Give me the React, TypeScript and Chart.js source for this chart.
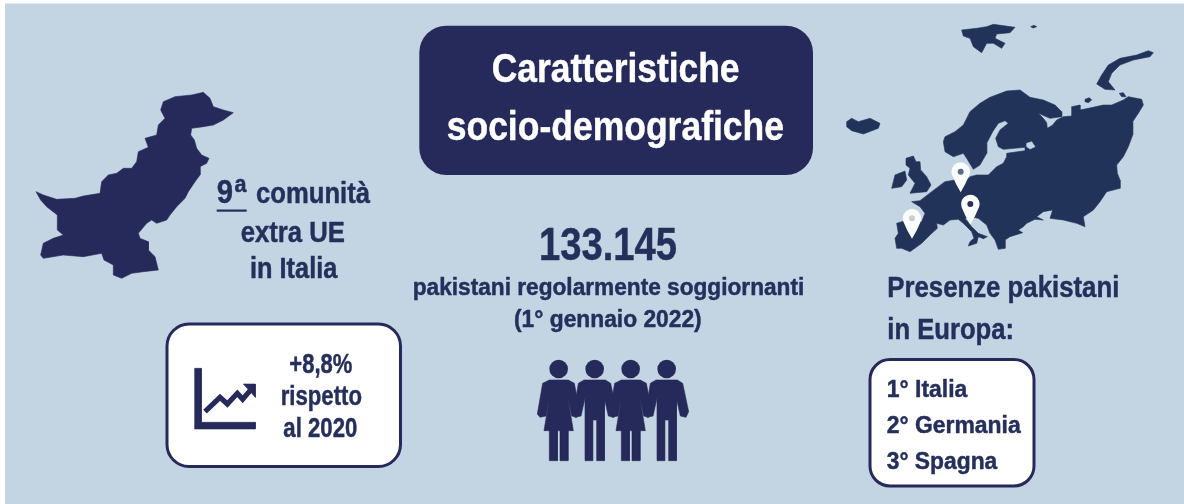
import React, { useEffect, useRef } from "react";
import { Chart, registerables } from "chart.js";

Chart.register(...registerables);

type P = [number, number];

const NAVY = "#252a5b";
const MAPBLUE = "#22335a";
const INK = "#252f5c";
const BG = "#c3d4e2";

// Text content
const titleLines = ["Caratteristiche", "socio-demografiche"];
const headlineValue = "133.145";
const headlineLines = ["pakistani regolarmente soggiornanti", "(1° gennaio 2022)"];
const rankOrdinal = ["9", "a"];
const rankLines = ["comunità", "extra UE", "in Italia"];
const growthLines = ["+8,8%", "rispetto", "al 2020"];
const presenceLines = ["Presenze pakistani", "in Europa:"];
const europeRanking = ["1° Italia", "2° Germania", "3° Spagna"];

// Silhouettes in 3x crop units
const pakistan: P[] = [[700,158],[670,180],[640,195],[610,200],[575,205],[572,225],[583,240],[590,265],[605,285],[627,295],[620,310],[600,320],[600,345],[585,365],[565,395],[555,415],[530,440],[510,465],[500,480],[470,490],[455,480],[440,490],[415,520],[420,535],[445,545],[445,570],[465,590],[475,630],[430,635],[395,640],[365,655],[340,645],[340,615],[312,600],[305,580],[250,590],[190,585],[130,595],[122,585],[130,550],[160,535],[190,525],[172,510],[172,465],[140,440],[122,420],[108,395],[130,405],[170,418],[225,415],[250,408],[300,400],[305,365],[325,345],[350,340],[370,325],[395,325],[410,305],[415,275],[445,262],[435,235],[470,225],[475,195],[495,175],[482,150],[490,125],[525,110],[575,105],[610,97],[630,115],[640,140],[670,150]];
const europe: P[] = [[340,395],[345,380],[375,365],[400,345],[420,305],[450,280],[480,262],[530,243],[570,240],[600,262],[640,270],[675,285],[695,305],[695,320],[660,325],[625,310],[640,325],[650,338],[652,355],[668,345],[680,330],[700,320],[725,318],[725,290],[750,285],[750,300],[775,295],[820,285],[845,285],[880,270],[895,260],[935,268],[940,285],[925,310],[908,335],[908,375],[895,410],[880,440],[860,465],[862,490],[870,510],[870,535],[830,545],[810,575],[790,600],[760,620],[765,650],[740,640],[700,630],[660,625],[668,600],[640,605],[620,620],[640,630],[615,628],[590,640],[580,650],[565,660],[578,668],[540,680],[525,690],[525,715],[505,718],[495,690],[480,670],[470,645],[445,625],[420,620],[405,625],[425,650],[445,670],[472,680],[460,686],[445,680],[440,700],[415,708],[420,695],[432,685],[425,665],[400,640],[385,628],[360,630],[340,645],[320,640],[322,655],[300,675],[275,700],[240,725],[215,715],[200,715],[195,685],[205,670],[200,640],[225,632],[275,635],[285,610],[270,590],[245,575],[270,572],[305,545],[345,515],[375,510],[400,520],[420,500],[440,495],[475,495],[500,470],[520,460],[530,440],[530,430],[585,422],[585,412],[520,418],[505,410],[497,385],[510,360],[535,340],[525,332],[505,340],[488,365],[470,400],[470,430],[450,465],[430,478],[410,445],[400,430],[370,440],[345,425]];
const ladoga: P[] = [[590,400],[605,395],[615,410],[600,417],[590,410]];
const novayaZemlya: P[] = [[800,222],[815,195],[835,165],[870,145],[920,135],[955,122],[970,128],[960,140],[910,150],[870,165],[845,190],[835,215],[855,240],[825,238]];
const kolguev: P[] = [[765,268],[778,263],[785,270],[775,278],[765,275]];
const vaygach: P[] = [[868,250],[880,248],[888,260],[875,260]];
const svalbard: P[] = [[395,60],[440,55],[470,50],[490,43],[555,52],[540,68],[500,72],[495,85],[525,100],[515,115],[490,100],[470,100],[455,128],[430,110],[420,85],[400,78]];
const kvitoya: P[] = [[602,50],[612,46],[620,50],[610,54]];
const iceland: P[] = [[50,335],[65,325],[85,335],[120,325],[150,340],[145,355],[100,372],[65,362],[50,350]];
const britain: P[] = [[228,445],[250,438],[258,455],[270,455],[272,480],[290,500],[303,525],[290,545],[240,550],[250,530],[255,520],[235,495],[240,475],[228,465]];
const ireland: P[] = [[195,495],[225,483],[230,510],[215,530],[185,535],[190,515]];
const womanFigure: P[] = [[88,120],[145,120],[163,130],[180,220],[170,232],[155,228],[144,175],[160,272],[144,272],[144,362],[120,362],[120,272],[112,272],[112,362],[88,362],[88,272],[72,272],[88,175],[78,228],[60,232],[52,222],[68,130]];
const manFigure: P[] = [[192,120],[256,120],[272,130],[290,215],[282,232],[265,228],[253,175],[253,362],[230,362],[230,240],[218,240],[218,362],[195,362],[195,175],[183,228],[165,232],[160,222],[175,130]];
const headCentres: P[] = [[116,87],[224,87],[332,87],[440,87]];
const axisIcon: P[] = [[134,175],[154,175],[154,337],[316,337],[316,357],[134,357]];
const trendLine: P[] = [[165,305],[210,262],[232,282],[262,250],[278,268],[300,242]];
const trendHead: P[] = [[280,222],[316,222],[316,262]];

// Map pins: position [x, y] in crop units and the colour of the dot
const pinSpots: P[] = [[392,485],[421,582],[246,625]];
const pinDots = ["#5d6a85", "#22335a", "#c9ced4"];

const crop = (pts: P[], ox: number, oy: number, dx = 0) =>
  pts.map(([x, y]) => ({ x: (x + dx) / 3 + ox, y: y / 3 + oy }));

const poly = (pts: { x: number; y: number }[], color: string, order = 2) => ({
  data: [...pts, pts[0]],
  showLine: true,
  fill: "shape",
  backgroundColor: color,
  borderColor: color,
  borderWidth: 0.6,
  pointRadius: 0,
  tension: 0,
  order,
});

const EU: [number, number] = [830, 10];
const PPL: [number, number] = [520, 340];
const ICO: [number, number] = [150, 310];

function label(ctx: CanvasRenderingContext2D, s: string, left: number, right: number, base: number, size: number, color: string) {
  ctx.save();
  ctx.font = `bold ${size}px "Liberation Sans", Arial, sans-serif`;
  ctx.fillStyle = color;
  ctx.strokeStyle = color;
  ctx.lineWidth = 0.45;
  ctx.lineJoin = "round";
  ctx.textAlign = "left";
  ctx.textBaseline = "alphabetic";
  const w = ctx.measureText(s).width;
  ctx.translate(left, base);
  ctx.scale((right - left) / w, 1);
  ctx.fillText(s, 0, 0);
  ctx.strokeText(s, 0, 0);
  ctx.restore();
}

function box(ctx: CanvasRenderingContext2D, x0: number, y0: number, x1: number, y1: number, r: number, fill: string, stroke?: string) {
  ctx.beginPath();
  ctx.roundRect(x0, y0, x1 - x0, y1 - y0, r);
  ctx.fillStyle = fill;
  ctx.fill();
  if (stroke) {
    ctx.strokeStyle = stroke;
    ctx.lineWidth = 3;
    ctx.stroke();
  }
}

const panels = {
  id: "panels",
  beforeDatasetsDraw(chart: any) {
    const { ctx } = chart;
    ctx.save();
    ctx.fillStyle = "#ffffff";
    ctx.fillRect(0, 0, 1184, 504);
    ctx.fillStyle = BG;
    ctx.fillRect(5, 3.5, 1179, 500.5);
    box(ctx, 419.3, 25.7, 813, 175, 27, NAVY);
    box(ctx, 167, 324, 400.5, 466.5, 22, "#ffffff", NAVY);
    box(ctx, 870, 359.5, 1034, 486, 20, "#ffffff", NAVY);
    ctx.restore();
  },
};

const overlay = {
  id: "overlay",
  afterDatasetsDraw(chart: any) {
    const { ctx } = chart;
    const sx = chart.scales.x;
    const sy = chart.scales.y;

    pinSpots.forEach(([cx, cy], i) => {
      const pt = crop([[cx, cy]], EU[0], EU[1])[0];
      const x = sx.getPixelForValue(pt.x);
      const y = sy.getPixelForValue(pt.y);
      const r = 9.3;
      const tip = 20.5;
      ctx.save();
      ctx.beginPath();
      ctx.arc(x, y, r, Math.PI * 0.9, Math.PI * 0.1);
      ctx.quadraticCurveTo(x + r * 0.55, y + tip * 0.6, x, y + tip);
      ctx.quadraticCurveTo(x - r * 0.55, y + tip * 0.6, x - r * 0.95, y + r * 0.31);
      ctx.closePath();
      ctx.fillStyle = "#fafbfb";
      ctx.fill();
      ctx.beginPath();
      ctx.arc(x, y, 3, 0, Math.PI * 2);
      ctx.fillStyle = pinDots[i];
      ctx.fill();
      ctx.restore();
    });

    label(ctx, titleLines[0], 491.7, 739.5, 81.5, 41, "#ffffff");
    label(ctx, titleLines[1], 446.7, 784, 140, 41, "#ffffff");
    label(ctx, headlineValue, 539, 677, 260, 46, INK);
    label(ctx, headlineLines[0], 412.7, 804.3, 295, 23, INK);
    label(ctx, headlineLines[1], 514, 701.7, 326.5, 23, INK);

    label(ctx, rankOrdinal[0], 216.7, 233, 203, 33, INK);
    label(ctx, rankOrdinal[1], 234.5, 246.5, 191.5, 24, INK);
    ctx.fillStyle = INK;
    ctx.fillRect(216.7, 209.5, 30, 2.2);
    label(ctx, rankLines[0], 256, 370, 203, 30, INK);
    label(ctx, rankLines[1], 240.7, 345, 242.3, 30, INK);
    label(ctx, rankLines[2], 250, 337.3, 278.3, 30, INK);

    label(ctx, growthLines[0], 289.3, 352.3, 373.3, 27, INK);
    label(ctx, growthLines[1], 280.7, 362, 405, 27, INK);
    label(ctx, growthLines[2], 283.3, 357.3, 436.7, 27, INK);

    label(ctx, presenceLines[0], 887.3, 1119.3, 296.7, 29, INK);
    label(ctx, presenceLines[1], 887.3, 1014, 339.3, 29, INK);
    label(ctx, europeRanking[0], 886.7, 967.3, 396.7, 24, INK);
    label(ctx, europeRanking[1], 886.7, 1020.7, 432.7, 24, INK);
    label(ctx, europeRanking[2], 886.7, 997.3, 469.3, 24, INK);
  },
};

export default function App() {
  const ref = useRef<HTMLCanvasElement | null>(null);
  useEffect(() => {
    document.body.style.margin = "0";
    const chart = new Chart(ref.current as HTMLCanvasElement, {
      type: "scatter",
      data: {
        datasets: [
          poly(crop(pakistan, 0, 60), NAVY),
          poly(crop(europe, EU[0], EU[1]), MAPBLUE),
          poly(crop(ladoga, EU[0], EU[1]), BG, 1),
          poly(crop(novayaZemlya, EU[0], EU[1]), MAPBLUE),
          poly(crop(kolguev, EU[0], EU[1]), MAPBLUE),
          poly(crop(vaygach, EU[0], EU[1]), MAPBLUE),
          poly(crop(svalbard, EU[0], EU[1]), MAPBLUE),
          poly(crop(kvitoya, EU[0], EU[1]), MAPBLUE),
          poly(crop(iceland, EU[0], EU[1]), MAPBLUE),
          poly(crop(britain, EU[0], EU[1]), MAPBLUE),
          poly(crop(ireland, EU[0], EU[1]), MAPBLUE),
          poly(crop(womanFigure, PPL[0], PPL[1]), NAVY),
          poly(crop(manFigure, PPL[0], PPL[1]), NAVY),
          poly(crop(womanFigure, PPL[0], PPL[1], 216), NAVY),
          poly(crop(manFigure, PPL[0], PPL[1], 216), NAVY),
          {
            data: crop(headCentres, PPL[0], PPL[1]),
            pointRadius: 9.3,
            pointBackgroundColor: NAVY,
            pointBorderWidth: 0,
            showLine: false,
            order: 2,
          },
          poly(crop(axisIcon, ICO[0], ICO[1]), NAVY),
          poly(crop(trendHead, ICO[0], ICO[1]), NAVY),
          {
            data: crop(trendLine, ICO[0], ICO[1]),
            showLine: true,
            fill: false,
            borderColor: NAVY,
            borderWidth: 5.2,
            pointRadius: 0,
            tension: 0,
            order: 2,
          },
        ] as any,
      },
      options: {
        responsive: false,
        animation: false,
        layout: { padding: 0, autoPadding: false },
        events: [],
        plugins: { legend: { display: false }, tooltip: { enabled: false } },
        scales: {
          x: { type: "linear", min: 0, max: 1184, display: false },
          y: { type: "linear", min: 0, max: 504, reverse: true, display: false },
        },
      },
      plugins: [panels, overlay],
    } as any);
    return () => chart.destroy();
  }, []);
  return <canvas ref={ref} width={1184} height={504} style={{ display: "block", width: 1184, height: 504 }} />;
}
